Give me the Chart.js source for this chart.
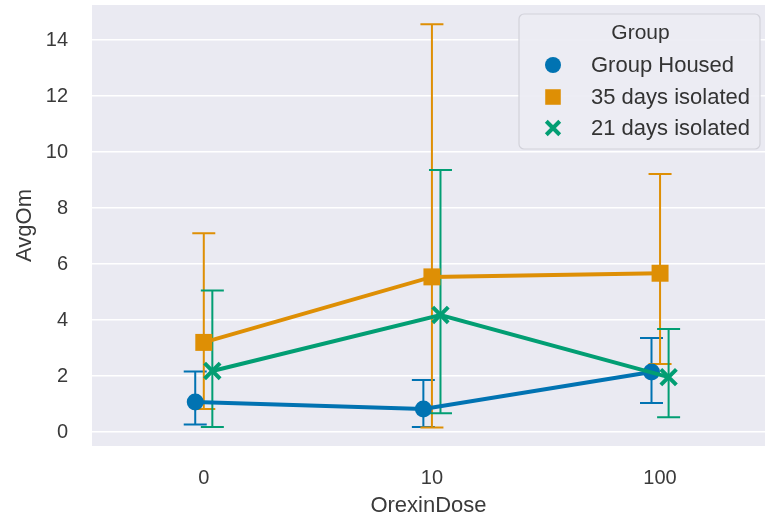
<!DOCTYPE html>
<html>
<head>
<meta charset="utf-8">
<script src="https://cdn.jsdelivr.net/npm/chart.js@4/dist/chart.umd.min.js"></script>
<style>
html,body{margin:0;padding:0;background:#ffffff;}
canvas{display:block;}
</style>
</head>
<body>
<canvas id="c" width="765" height="521"></canvas>
<script>
// ---- data ----
const categories = ['0', '10', '100'];
const seriesNames = ['Group Housed', '35 days isolated', '21 days isolated'];
const groupHousedMean = [1.07, 0.82, 2.14];
const groupHousedLow  = [0.27, 0.18, 1.04];
const groupHousedHigh = [2.16, 1.86, 3.36];
const iso35Mean = [3.20, 5.54, 5.67];
const iso35Low  = [0.82, 0.16, 2.43];
const iso35High = [7.10, 14.56, 9.21];
const iso21Mean = [2.18, 4.18, 1.96];
const iso21Low  = [0.18, 0.67, 0.53];
const iso21High = [5.05, 9.36, 3.68];
const yTickValues = [0, 2, 4, 6, 8, 10, 12, 14];
const legendTitle = 'Group';
const xTitle = 'OrexinDose';
const yTitle = 'AvgOm';

// ---- styles ----
const colors = ['#0173b2', '#de8f05', '#029e73'];
const pointStyles = ['circle', 'rect', 'crossRot'];
const pointRadii = [8.5, 12, 11];
const dodge = [-0.0375, 0, 0.0375];
const FONT = '"Liberation Sans", Arial, Helvetica, sans-serif';

const means = [groupHousedMean, iso35Mean, iso21Mean];
const lows = [groupHousedLow, iso35Low, iso21Low];
const highs = [groupHousedHigh, iso35High, iso21High];

const datasets = seriesNames.map((name, s) => ({
  label: name,
  data: means[s].map((v, i) => ({x: i + dodge[s], y: v, lo: lows[s][i], hi: highs[s][i]})),
  borderColor: colors[s],
  backgroundColor: colors[s],
  pointBackgroundColor: colors[s],
  pointBorderColor: colors[s],
  borderWidth: 4,
  pointStyle: pointStyles[s],
  pointRadius: pointRadii[s],
  pointBorderWidth: s === 2 ? 4 : 0,
  pointHoverRadius: pointRadii[s],
  tension: 0,
  order: 2 - s
}));

const bgPlugin = {
  id: 'bg',
  beforeDraw(chart) {
    const {ctx, chartArea: a} = chart;
    ctx.save();
    ctx.fillStyle = '#eaeaf2';
    ctx.fillRect(a.left, a.top, a.right - a.left, a.bottom - a.top);
    ctx.restore();
  }
};

const errPlugin = {
  id: 'errbars',
  beforeDatasetsDraw(chart) {
    const {ctx, scales: {x, y}} = chart;
    ctx.save();
    ctx.lineWidth = 2;
    const capHalf = 11.5;
    chart.data.datasets.forEach((ds, s) => {
      ctx.strokeStyle = colors[s];
      ds.data.forEach(p => {
        const px = x.getPixelForValue(p.x);
        const yl = y.getPixelForValue(p.lo);
        const yh = y.getPixelForValue(p.hi);
        ctx.beginPath();
        ctx.moveTo(px, yl); ctx.lineTo(px, yh);
        ctx.moveTo(px - capHalf, yl); ctx.lineTo(px + capHalf, yl);
        ctx.moveTo(px - capHalf, yh); ctx.lineTo(px + capHalf, yh);
        ctx.stroke();
      });
    });
    ctx.restore();
  }
};

const legendPlugin = {
  id: 'customLegend',
  afterDraw(chart) {
    const ctx = chart.ctx;
    const L = 519, T = 14, W = 241, H = 135, r = 5;
    ctx.save();
    ctx.beginPath();
    ctx.moveTo(L + r, T);
    ctx.arcTo(L + W, T, L + W, T + H, r);
    ctx.arcTo(L + W, T + H, L, T + H, r);
    ctx.arcTo(L, T + H, L, T, r);
    ctx.arcTo(L, T, L + W, T, r);
    ctx.closePath();
    ctx.fillStyle = 'rgba(236,236,243,0.92)';
    ctx.fill();
    ctx.strokeStyle = '#d2d2da';
    ctx.lineWidth = 1.2;
    ctx.stroke();

    ctx.fillStyle = '#333333';
    ctx.textBaseline = 'middle';
    ctx.font = '21px ' + FONT;
    ctx.textAlign = 'center';
    ctx.fillText(legendTitle, L + W / 2 + 1, 33);
    ctx.textAlign = 'left';
    const rowY = [65, 97, 128];
    seriesNames.forEach((name, s) => {
      ctx.fillStyle = colors[s];
      ctx.strokeStyle = colors[s];
      ctx.lineWidth = 4;
      Chart.helpers.drawPoint(ctx, {
        pointStyle: pointStyles[s],
        radius: s === 0 ? 8 : (s === 1 ? 11 : 9.5),
        rotation: 0,
        borderWidth: s === 2 ? 4 : 0
      }, 553, rowY[s]);
      ctx.fillStyle = '#333333';
      ctx.font = '22px ' + FONT;
      ctx.fillText(name, 591, rowY[s] + 1);
    });
    ctx.restore();
  }
};

new Chart(document.getElementById('c'), {
  type: 'line',
  data: {datasets},
  plugins: [bgPlugin, errPlugin, legendPlugin],
  options: {
    responsive: false,
    animation: false,
    events: [],
    layout: {autoPadding: false, padding: {top: 5, right: 0, left: 0, bottom: 0}},
    plugins: {legend: {display: false}, tooltip: {enabled: false}},
    scales: {
      x: {
        type: 'linear',
        min: -0.49,
        max: 2.46,
        afterBuildTicks(scale) { scale.ticks = categories.map((c, i) => ({value: i})); },
        afterFit(scale) { scale.height = 75; scale.paddingLeft = 0; scale.paddingRight = 0; },
        ticks: {
          callback: (v) => categories[v],
          color: '#3a3a3a',
          font: {family: FONT, size: 20},
          padding: 20,
          maxRotation: 0
        },
        grid: {display: false, drawTicks: false},
        border: {display: false},
        title: {display: true, text: xTitle, color: '#3a3a3a', font: {family: FONT, size: 22}, padding: {top: 0, bottom: 2}}
      },
      y: {
        type: 'linear',
        min: -0.5,
        max: 15.25,
        afterBuildTicks(scale) { scale.ticks = yTickValues.map(v => ({value: v})); },
        afterFit(scale) { scale.width = 92; scale.paddingTop = 0; scale.paddingBottom = 0; },
        ticks: {
          color: '#3a3a3a',
          font: {family: FONT, size: 20},
          padding: 24
        },
        grid: {color: '#ffffff', lineWidth: 1.6, drawTicks: false},
        border: {display: false},
        title: {display: true, text: yTitle, color: '#3a3a3a', font: {family: FONT, size: 22}, padding: {top: 12, bottom: 0}}
      }
    }
  }
});
</script>
</body>
</html>
